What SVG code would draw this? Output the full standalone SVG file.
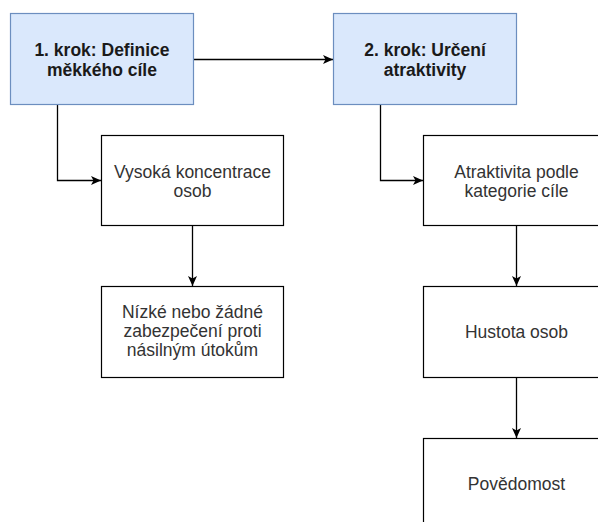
<svg xmlns="http://www.w3.org/2000/svg" width="598" height="522" viewBox="0 0 598 522">
<defs>
<style>
.box{fill:#ffffff;stroke:#000000;stroke-width:1.2}
.step{fill:#dae8fc;stroke:#6c8ebf;stroke-width:1.2}
.t{font-family:"Liberation Sans",Arial,Helvetica,sans-serif;font-size:17.5px;fill:#333333;text-anchor:middle}
.b{font-weight:bold;fill:#1a1a1a}
.edge{fill:none;stroke:#000000;stroke-width:1.3}
</style>
<marker id="arr" markerUnits="userSpaceOnUse" markerWidth="11" markerHeight="11" refX="10" refY="5" orient="auto">
<path d="M0,0.5 L10,5 L0,9.5 L2.5,5 Z" fill="#000000"/>
</marker>
</defs>
<rect width="598" height="522" fill="#ffffff"/>
<g id="connectors">
<path class="edge" d="M193.5,59.5 L333,59.5" marker-end="url(#arr)"/>
<path class="edge" d="M57.5,104.5 L57.5,180.5 L101,180.5" marker-end="url(#arr)"/>
<path class="edge" d="M380.5,104.5 L380.5,180.5 L423,180.5" marker-end="url(#arr)"/>
<path class="edge" d="M192.5,225.5 L192.5,286" marker-end="url(#arr)"/>
<path class="edge" d="M516.5,225.5 L516.5,286" marker-end="url(#arr)"/>
<path class="edge" d="M516.5,377.5 L516.5,438" marker-end="url(#arr)"/>
</g>
<g id="step1">
<rect class="step" x="10.5" y="13.5" width="183" height="91"/>
<text class="t b" x="102" y="56">1. krok: Definice</text>
<text class="t b" x="102" y="76">měkkého cíle</text>
</g>
<g id="step2">
<rect class="step" x="333.5" y="13.5" width="183" height="91"/>
<text class="t b" x="425" y="56">2. krok: Určení</text>
<text class="t b" x="425" y="76">atraktivity</text>
</g>
<g id="koncentrace">
<rect class="box" x="101.5" y="135.5" width="182" height="90"/>
<text class="t" x="192.5" y="178">Vysoká koncentrace</text>
<text class="t" x="192.5" y="197">osob</text>
</g>
<g id="zabezpeceni">
<rect class="box" x="101.5" y="286.5" width="182" height="91"/>
<text class="t" x="192.5" y="318">Nízké nebo žádné</text>
<text class="t" x="192.5" y="337">zabezpečení proti</text>
<text class="t" x="192.5" y="356">násilným útokům</text>
</g>
<g id="atraktivita">
<rect class="box" x="423.5" y="135.5" width="186" height="90"/>
<text class="t" x="516.5" y="178">Atraktivita podle</text>
<text class="t" x="516.5" y="197">kategorie cíle</text>
</g>
<g id="hustota">
<rect class="box" x="423.5" y="286.5" width="186" height="91"/>
<text class="t" x="516.5" y="338">Hustota osob</text>
</g>
<g id="povedomost">
<rect class="box" x="423.5" y="438.5" width="186" height="91"/>
<text class="t" x="516.5" y="490">Povědomost</text>
</g>
</svg>
